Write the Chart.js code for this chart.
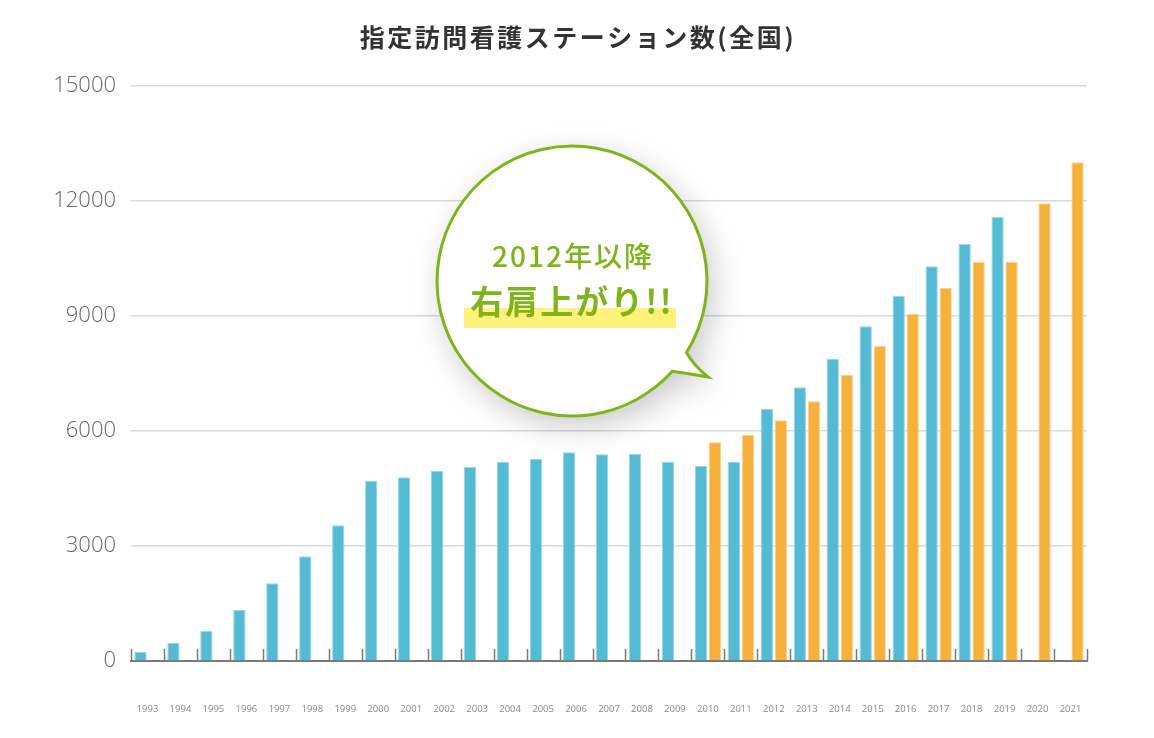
<!DOCTYPE html>
<html>
<head>
    <meta charset="UTF-8" />
    <title>指定訪問看護ステーション数(全国)</title>
    <script src="https://cdn.jsdelivr.net/npm/chart.js"></script>
    <style>
        html, body { margin: 0; padding: 0; background: #fff; }
        #chartBox { width: 1154px; height: 738px; }
    </style>
</head>
<body>
    <div id="chartBox">
        <canvas id="stationChart"></canvas>
    </div>

    <script type="text/javascript">
        const chartTitle = '指定訪問看護ステーション数(全国)';
        const years = ['1993', '1994', '1995', '1996', '1997', '1998', '1999', '2000', '2001', '2002',
            '2003', '2004', '2005', '2006', '2007', '2008', '2009', '2010', '2011', '2012',
            '2013', '2014', '2015', '2016', '2017', '2018', '2019', '2020', '2021'];
        const blueValues = [240, 477, 780, 1330, 2026, 2730, 3539, 4704, 4791, 4965,
            5061, 5191, 5278, 5443, 5391, 5409, 5191, 5087, 5191, 6574,
            7140, 7887, 8731, 9522, 10296, 10878, 11583, null, null];
        const orangeValues = [null, null, null, null, null, null, null, null, null, null,
            null, null, null, null, null, null, null, 5705, 5896, 6278,
            6774, 7461, 8217, 9061, 9730, 10409, 10409, 11939, 13009];
        const yTicks = [0, 3000, 6000, 9000, 12000, 15000];

        const numFont = '"Open Sans", "Noto Sans CJK JP", sans-serif';
        const jpFont = '"Noto Sans CJK JP", sans-serif';

        // title centred on the whole canvas
        const pageTitle = {
            id: 'pageTitle',
            afterDraw(chart) {
                const ctx = chart.ctx;
                ctx.save();
                ctx.fillStyle = '#333';
                ctx.font = '700 25px ' + jpFont;
                ctx.letterSpacing = '2.5px';
                ctx.textAlign = 'center';
                ctx.textBaseline = 'middle';
                ctx.fillText(chartTitle, chart.width / 2 + 1, 37);
                ctx.restore();
            }
        };

        // small tick marks pointing up from the x axis, at category boundaries
        const upTicks = {
            id: 'upTicks',
            afterDraw(chart) {
                const x = chart.scales.x;
                const ctx = chart.ctx;
                const step = (x.right - x.left) / years.length;
                ctx.save();
                ctx.strokeStyle = '#7a7a7a';
                ctx.lineWidth = 1.5;
                for (let i = 0; i <= years.length; i++) {
                    const px = Math.round(x.left + i * step) + 0.5;
                    ctx.beginPath();
                    ctx.moveTo(px, x.top);
                    ctx.lineTo(px, x.top - 12);
                    ctx.stroke();
                }
                ctx.restore();
            }
        };

        // speech bubble
        const bubble = {
            id: 'bubble',
            afterDraw(chart) {
                const ctx = chart.ctx;
                const cx = 572, cy = 281, r = 135;
                const a1 = 32 * Math.PI / 180, a2 = 42 * Math.PI / 180;
                const green = '#7fb41b';
                ctx.save();
                ctx.beginPath();
                ctx.arc(cx, cy, r, a1, a2, true);
                ctx.quadraticCurveTo(690, 374, 708, 377);
                ctx.quadraticCurveTo(694, 366, cx + r * Math.cos(a1), cy + r * Math.sin(a1));
                ctx.closePath();
                ctx.shadowColor = 'rgba(0,0,0,0.22)';
                ctx.shadowBlur = 32;
                ctx.shadowOffsetX = 6;
                ctx.shadowOffsetY = 10;
                ctx.fillStyle = '#fff';
                ctx.fill();
                ctx.shadowColor = 'transparent';
                ctx.lineWidth = 3;
                ctx.strokeStyle = green;
                ctx.stroke();

                ctx.fillStyle = '#fff27a';
                ctx.fillRect(464, 308, 212, 20);

                ctx.fillStyle = green;
                ctx.textAlign = 'center';
                ctx.textBaseline = 'middle';
                ctx.letterSpacing = '2px';
                ctx.font = '500 28px ' + jpFont;
                ctx.fillText('2012年以降', cx + 1, 256);
                ctx.letterSpacing = '2px';
                ctx.font = '700 33px ' + jpFont;
                ctx.fillText('右肩上がり!!', cx, 301);
                ctx.restore();
            }
        };

        function initChart() {
            const ctx = document.getElementById('stationChart').getContext('2d');
            new Chart(ctx, {
                type: 'bar',
                data: {
                    labels: years,
                    datasets: [{
                        data: blueValues,
                        backgroundColor: '#55bad3',
                        borderColor: '#96d6e7',
                        borderWidth: 1,
                        categoryPercentage: 0.85,
                        barPercentage: 0.88
                    }, {
                        data: orangeValues,
                        backgroundColor: '#f6b13d',
                        borderColor: '#fad08a',
                        borderWidth: 1,
                        categoryPercentage: 0.85,
                        barPercentage: 0.88
                    }]
                },
                options: {
                    responsive: true,
                    maintainAspectRatio: false,
                    animation: false,
                    layout: { padding: { left: 0, right: 67, top: 86, bottom: 0 } },
                    plugins: {
                        legend: { display: false },
                        tooltip: { enabled: false },
                        title: { display: false }
                    },
                    scales: {
                        x: {
                            grid: { display: false },
                            border: { display: true, color: '#7a7a7a', width: 2 },
                            ticks: {
                                color: '#888',
                                font: { family: numFont, size: 9.5 },
                                padding: 35,
                                maxRotation: 0,
                                autoSkip: false
                            },
                            afterFit(scale) { scale.height = 77; }
                        },
                        y: {
                            min: 0,
                            max: 15000,
                            afterBuildTicks(scale) {
                                scale.ticks = yTicks.map(v => ({ value: v }));
                            },
                            grid: { color: '#dadada', lineWidth: 1.5, drawTicks: false },
                            border: { display: false },
                            ticks: {
                                color: '#666',
                                font: { family: numFont, size: 22, weight: '300' },
                                padding: 15,
                                callback: v => String(v)
                            },
                            afterFit(scale) { scale.width = 131; }
                        }
                    }
                },
                plugins: [upTicks, bubble, pageTitle]
            });
        }

        window.onload = initChart;
    </script>
</body>
</html>
